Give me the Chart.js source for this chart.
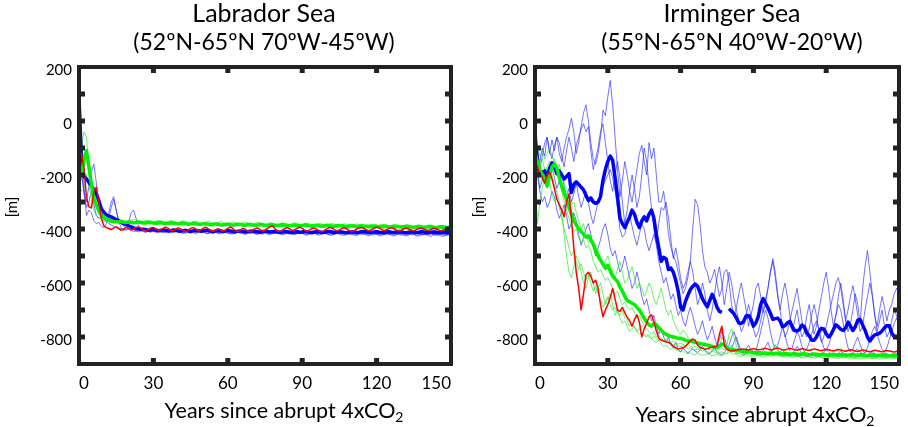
<!DOCTYPE html>
<html>
<head>
<meta charset="utf-8">
<script src="https://cdn.jsdelivr.net/npm/chart.js@4.4.0/dist/chart.umd.min.js"></script>
<style>
body { margin: 0; background: #fff; }
#wrap { position: relative; width: 908px; height: 427px; overflow: hidden; }
canvas { position: absolute; top: 0; }
</style>
</head>
<body>
<div id="wrap">
<canvas id="lab" width="460" height="427" style="left:0px"></canvas>
<canvas id="irm" width="448" height="427" style="left:460px"></canvas>
</div>
<script>
// years since abrupt 4xCO2 (x axis)
const years = [];
for (let i = 0; i <= 150; i++) years.push(i);
const xTickMarks = [30, 60, 90, 120];
const yTickMarks = [100, 0, -100, -200, -300, -400, -500, -600, -700, -800];

// ---- Labrador Sea ----
const labBlueMean = [
90,-150,-205,-215,-228,-240,-255,-270,-295,-325,
-338,-348,-352,-355,-360,-365,-370,-375,-380,-384,
-388,-392,-396,-398,-400,-402,-401,-403,-405,-404,
-402,-404,-406,-405,-403,-405,-407,-406,-404,-405,
-407,-408,-406,-405,-407,-409,-407,-405,-406,-408,
-407,-405,-406,-408,-410,-408,-406,-407,-409,-408,
-406,-407,-409,-410,-408,-407,-409,-411,-410,-408,
-407,-409,-410,-412,-410,-408,-409,-411,-410,-409,
-410,-412,-411,-409,-410,-412,-413,-411,-410,-412,
-411,-409,-410,-412,-413,-411,-410,-411,-413,-412,
-410,-409,-411,-413,-412,-410,-411,-413,-414,-412,
-410,-411,-413,-412,-410,-409,-411,-413,-412,-411,
-410,-412,-414,-413,-411,-410,-412,-413,-411,-410,
-411,-413,-414,-412,-410,-411,-413,-412,-410,-411,
-413,-414,-412,-411,-412,-414,-413,-411,-412,-414,
-413];
const labGreenMean = [
-170,-200,-140,-110,-170,-235,-285,-312,-332,-346,
-355,-362,-366,-370,-372,-373,-374,-372,-375,-376,
-374,-375,-377,-376,-374,-376,-378,-377,-375,-376,
-378,-379,-377,-376,-378,-380,-379,-377,-378,-380,
-381,-379,-378,-380,-382,-381,-379,-380,-382,-383,
-381,-380,-382,-384,-383,-381,-382,-384,-385,-383,
-382,-384,-385,-384,-382,-383,-385,-386,-384,-383,
-385,-386,-385,-383,-384,-386,-387,-385,-384,-386,
-387,-386,-384,-385,-387,-388,-386,-385,-387,-388,
-387,-385,-386,-388,-389,-387,-386,-388,-389,-388,
-386,-387,-389,-390,-388,-387,-388,-390,-391,-389,
-388,-389,-391,-390,-388,-389,-391,-392,-390,-389,
-390,-392,-391,-389,-390,-392,-393,-391,-390,-391,
-393,-392,-390,-391,-393,-394,-392,-391,-392,-394,
-393,-391,-392,-394,-395,-393,-392,-393,-395,-394,
-393];
const labRed = [
-170,-120,-175,-280,-318,-322,-262,-245,-300,-360,
-388,-395,-398,-402,-396,-392,-398,-405,-400,-394,
-398,-404,-400,-395,-392,-398,-404,-408,-402,-396,
-394,-400,-406,-402,-397,-393,-398,-404,-407,-401,
-396,-400,-406,-410,-404,-398,-395,-400,-407,-403,
-398,-393,-399,-405,-409,-404,-399,-402,-408,-404,
-398,-392,-398,-406,-410,-404,-398,-401,-407,-411,
-405,-399,-396,-402,-408,-405,-398,-392,-388,-399,
-407,-410,-404,-398,-395,-400,-406,-403,-397,-393,
-398,-405,-409,-404,-398,-396,-402,-408,-410,-405,
-399,-394,-396,-402,-407,-404,-398,-395,-400,-406,
-410,-406,-400,-396,-394,-398,-404,-407,-402,-397,
-393,-396,-402,-406,-403,-398,-395,-399,-405,-408,
-404,-399,-396,-400,-405,-407,-402,-398,-396,-400,
-404,-406,-401,-397,-399,-404,-407,-403,-399,-402,
-405];
const labBlue1 = [
40,-200,-260,-300,-240,-190,-160,-230,-320,-350,
-330,-350,-340,-300,-280,-330,-370,-380,-390,-385,
-375,-340,-330,-360,-390,-400,-405,-410,-404,-400,
-408,-412,-406,-402,-409,-414,-410,-405,-400,-408,
-413,-410,-404,-407,-412,-415,-409,-404,-408,-413,
-411,-406,-409,-414,-416,-410,-405,-409,-414,-412,
-407,-410,-415,-417,-412,-406,-410,-415,-413,-409,
-412,-416,-418,-413,-408,-411,-416,-414,-410,-413,
-417,-415,-410,-412,-417,-419,-414,-410,-413,-417,
-416,-411,-413,-418,-419,-414,-410,-414,-418,-416,
-412,-414,-419,-420,-415,-411,-414,-419,-417,-413,
-415,-419,-421,-416,-412,-415,-420,-418,-414,-416,
-420,-421,-416,-413,-416,-420,-419,-415,-417,-421,
-422,-417,-414,-417,-421,-420,-416,-418,-422,-421,
-417,-415,-418,-422,-421,-417,-419,-423,-421,-418,
-420];
const labBlue2 = [
-20,-180,-270,-320,-300,-260,-310,-350,-360,-355,
-365,-370,-380,-385,-390,-395,-400,-398,-402,-405,
-400,-396,-402,-408,-410,-405,-400,-404,-410,-412,
-406,-402,-407,-412,-414,-409,-404,-408,-413,-411,
-406,-409,-414,-416,-411,-406,-409,-414,-412,-408,
-410,-415,-417,-412,-407,-410,-415,-413,-409,-412,
-416,-418,-413,-408,-411,-416,-414,-410,-413,-417,
-415,-410,-412,-417,-419,-414,-410,-413,-417,-416,
-411,-413,-418,-419,-414,-410,-414,-418,-416,-412,
-414,-419,-420,-415,-411,-414,-419,-417,-413,-415,
-419,-421,-416,-412,-415,-420,-418,-414,-416,-420,
-421,-416,-413,-416,-420,-419,-415,-417,-421,-422,
-417,-414,-417,-421,-420,-416,-418,-422,-421,-417,
-415,-418,-422,-421,-417,-419,-423,-421,-418,-420,
-422,-418,-416,-419,-423,-422,-418,-420,-424,-421,
-419];
const labBlue3 = [
120,-60,-240,-350,-330,-340,-370,-380,-375,-390,
-395,-380,-360,-320,-290,-330,-372,-395,-405,-400,
-398,-404,-410,-406,-400,-404,-410,-413,-407,-402,
-405,-411,-414,-409,-404,-407,-412,-415,-410,-405,
-408,-413,-416,-411,-406,-410,-414,-417,-412,-407,
-409,-414,-418,-413,-408,-411,-416,-418,-413,-409,
-412,-417,-419,-414,-409,-412,-417,-420,-415,-410,
-413,-418,-420,-415,-411,-414,-419,-421,-416,-412,
-414,-419,-422,-417,-412,-415,-420,-422,-417,-413,
-416,-421,-423,-418,-413,-416,-421,-423,-418,-414,
-417,-422,-424,-419,-414,-417,-422,-424,-419,-415,
-418,-423,-424,-419,-415,-418,-423,-425,-420,-416,
-419,-424,-425,-420,-416,-419,-424,-426,-421,-417,
-420,-424,-426,-421,-417,-420,-425,-426,-421,-418,
-421,-425,-427,-422,-418,-421,-426,-427,-422,-419,
-424];
const labGreen1 = [
-150,-100,-40,-60,-180,-260,-300,-320,-340,-355,
-362,-368,-370,-366,-368,-372,-370,-366,-369,-373,
-371,-367,-364,-368,-372,-374,-370,-366,-369,-373,
-375,-371,-367,-370,-374,-376,-372,-368,-371,-375,
-377,-373,-369,-372,-376,-378,-374,-370,-373,-377,
-379,-375,-371,-374,-378,-380,-376,-372,-375,-379,
-380,-376,-373,-376,-380,-381,-377,-374,-377,-381,
-382,-378,-375,-378,-382,-383,-379,-376,-379,-383,
-384,-380,-376,-379,-383,-385,-381,-377,-380,-384,
-385,-381,-378,-381,-385,-386,-382,-379,-382,-386,
-387,-383,-379,-382,-386,-388,-384,-380,-383,-387,
-388,-384,-381,-384,-388,-389,-385,-382,-385,-389,
-390,-386,-382,-385,-389,-391,-387,-383,-386,-390,
-391,-387,-384,-387,-391,-392,-388,-385,-388,-392,
-393,-389,-385,-388,-392,-394,-390,-386,-389,-393,
-394];
const labGreen2 = [
-200,-220,-170,-120,-150,-220,-270,-320,-345,-360,
-368,-374,-378,-375,-371,-374,-378,-381,-377,-373,
-376,-380,-382,-378,-374,-377,-381,-383,-379,-375,
-378,-382,-384,-380,-376,-379,-383,-385,-381,-377,
-380,-384,-386,-382,-378,-381,-385,-387,-383,-379,
-382,-386,-388,-384,-380,-383,-387,-389,-385,-381,
-384,-388,-390,-386,-382,-385,-389,-391,-387,-383,
-386,-390,-391,-387,-383,-386,-390,-392,-388,-384,
-387,-391,-392,-388,-384,-387,-391,-393,-389,-385,
-388,-392,-393,-389,-385,-388,-392,-394,-390,-386,
-389,-393,-394,-390,-386,-389,-393,-395,-391,-387,
-390,-394,-395,-391,-387,-390,-394,-396,-392,-388,
-391,-395,-396,-392,-388,-391,-395,-397,-393,-389,
-392,-396,-397,-393,-389,-392,-396,-398,-394,-390,
-393,-397,-398,-394,-390,-393,-397,-399,-395,-391,
-394];
const labGreen3 = [
-230,-260,-250,-200,-240,-290,-330,-350,-360,-366,
-370,-368,-372,-376,-379,-375,-371,-374,-378,-380,
-376,-372,-375,-379,-381,-377,-373,-376,-380,-382,
-378,-374,-377,-381,-383,-379,-375,-378,-382,-384,
-380,-376,-379,-383,-385,-381,-377,-380,-384,-386,
-382,-378,-381,-385,-387,-383,-379,-382,-386,-388,
-384,-380,-383,-387,-389,-385,-381,-384,-388,-390,
-386,-382,-385,-389,-391,-387,-383,-386,-390,-392,
-388,-384,-387,-391,-393,-389,-385,-388,-392,-394,
-390,-386,-389,-393,-395,-391,-387,-390,-394,-396,
-392,-388,-391,-395,-397,-393,-389,-392,-396,-398,
-394,-390,-393,-397,-399,-395,-391,-394,-398,-400,
-396,-392,-395,-399,-401,-397,-393,-396,-400,-402,
-398,-394,-397,-401,-403,-399,-395,-398,-402,-404,
-400,-396,-399,-403,-405,-401,-397,-400,-404,-406,
-402];

// ---- Irminger Sea ----
const irmBlueMean = [
-60,-150,-200,-190,-185,-205,-175,-155,-170,-195,
-185,-200,-215,-205,-195,-265,-235,-225,-235,-245,
-255,-275,-295,-285,-300,-305,-300,-280,-220,-180,
-150,-130,-145,-210,-280,-360,-380,-395,-375,-355,
-330,-345,-375,-395,-370,-355,-370,-345,-330,-360,
-420,-470,-520,-505,-510,-550,-545,-560,-590,-630,
-690,-700,-668,-645,-625,-612,-604,-612,-635,-658,
-675,-688,-665,-642,-662,-690,-705,-709,null,null,
-695,-705,-714,-730,-748,-750,-742,-722,-720,-735,
-760,-748,-725,-680,-658,-675,-693,-712,-735,-732,
-730,-740,-762,-758,-748,-742,-762,-776,-778,-772,
-756,-762,-785,-795,-812,-812,-800,-780,-768,-770,
-788,-800,-790,-772,-755,-762,-772,-776,-766,-745,
-760,-776,-762,-738,-735,-755,-775,-800,-815,-802,
-792,-790,-786,-778,-766,-758,-758,-785,-798,-802,
-800];
const irmGreenMean = [
-120,-150,-180,-200,-215,-240,-200,-170,-160,-175,
-210,-240,-265,-290,-320,-345,-370,-385,-400,-410,
-420,-430,-425,-440,-455,-480,-500,-515,-530,-545,
-535,-555,-575,-585,-595,-615,-630,-650,-665,-670,
-675,-680,-690,-700,-715,-730,-745,-755,-760,-750,
-755,-765,-775,-785,-790,-795,-798,-800,-802,-805,
-805,-808,-812,-815,-815,-818,-820,-822,-825,-826,
-828,-830,-832,-835,-838,-838,-832,-826,-830,-840,
-845,-846,-848,-850,-850,-852,-853,-854,-855,-856,
-857,-858,-857,-859,-860,-859,-861,-860,-862,-861,
-860,-862,-863,-861,-862,-864,-863,-862,-864,-865,
-863,-862,-864,-866,-865,-863,-864,-866,-865,-864,
-866,-867,-865,-864,-866,-867,-866,-865,-867,-868,
-866,-865,-867,-868,-866,-865,-867,-869,-868,-866,
-867,-869,-868,-866,-867,-869,-870,-868,-867,-869,
-868];
const irmRed = [
-150,-170,-195,-210,-230,-200,-190,-215,-250,-290,
-310,-330,-355,-300,-270,-360,-470,-560,-620,-700,
-640,-570,-560,-575,-600,-590,-620,-680,-725,-700,
-680,-655,-620,-660,-700,-705,-690,-710,-728,-740,
-760,-735,-718,-745,-800,-770,-750,-725,-718,-745,
-778,-805,-812,-815,-818,-820,-825,-835,-840,-845,
-842,-840,-835,-825,-815,-808,-812,-830,-838,-842,
-845,-843,-840,-838,-836,-834,-790,-760,-830,-845,
-850,-852,-850,-848,-846,-845,-844,-846,-848,-845,
-843,-845,-847,-846,-844,-842,-845,-848,-846,-843,
-841,-844,-847,-848,-845,-842,-844,-847,-849,-846,
-843,-845,-848,-850,-847,-844,-846,-849,-851,-848,
-845,-847,-850,-852,-849,-846,-848,-851,-853,-850,
-847,-849,-852,-854,-851,-848,-850,-853,-855,-852,
-849,-851,-853,-855,-852,-850,-852,-854,-856,-853,
-852];
const irmBlue1 = [
-20,-120,-150,-100,-130,-60,-110,-140,-90,-60,
-120,-150,-100,-60,-30,10,-40,-120,-80,-20,
30,60,0,-80,-140,-160,-120,-60,40,20,
90,150,60,-60,-180,-280,-220,-150,-200,-260,
-300,-240,-180,-120,-90,-150,-200,-80,-140,-100,
-200,-300,-300,-260,-330,-420,-470,-500,-520,-560,
-600,-640,-620,-580,-520,-400,-290,-310,-380,-480,
-540,-560,-600,-580,-550,-600,-650,-620,-560,-550,
-600,-680,-720,-690,-640,-600,-650,-700,-760,-720,
-680,-620,-600,-650,-710,-680,-620,-560,-520,-580,
-650,-700,-640,-600,-650,-720,-780,-740,-700,-760,
-800,-780,-720,-680,-740,-790,-760,-700,-650,-600,
-560,-620,-700,-760,-720,-650,-600,-660,-740,-780,
-750,-700,-640,-680,-750,-620,-540,-480,-560,-640,
-720,-760,-700,-650,-690,-740,-700,-680,-640,-620,
-640];
const irmBlue2 = [
30,-100,-180,-130,-80,-60,-120,-70,-110,-60,
-80,-130,-170,-110,-60,-100,-150,-90,-60,-30,
-10,-40,-20,-110,-180,-140,-100,-40,-10,-80,
-150,-220,-260,-200,-150,-210,-300,-380,-330,-260,
-200,-250,-320,-280,-200,-100,-150,-240,-320,-400,
-450,-380,-320,-330,-300,-360,-440,-510,-470,-520,
-580,-620,-600,-560,-520,-560,-620,-680,-650,-600,
-640,-700,-740,-700,-640,-580,-540,-600,-680,-620,
-560,-600,-660,-700,-740,-780,-760,-720,-680,-720,
-770,-800,-780,-740,-700,-660,-620,-560,-510,-560,
-640,-700,-760,-800,-780,-740,-700,-660,-620,-680,
-740,-780,-800,-770,-720,-680,-720,-780,-820,-800,
-760,-720,-680,-640,-600,-580,-620,-680,-740,-700,
-650,-610,-660,-720,-780,-760,-700,-650,-600,-650,
-720,-780,-740,-700,-760,-800,-780,-740,-700,-720,
-760];
const irmBlue3 = [
-60,-180,-250,-220,-180,-230,-200,-170,-210,-250,
-220,-190,-240,-280,-250,-300,-270,-230,-280,-320,
-290,-260,-300,-350,-380,-340,-300,-270,-240,-220,
-200,-180,-210,-260,-320,-400,-430,-420,-380,-350,
-390,-430,-460,-420,-380,-400,-450,-480,-450,-420,
-460,-520,-560,-600,-580,-620,-660,-640,-680,-720,
-700,-740,-760,-720,-690,-720,-760,-790,-770,-740,
-780,-810,-790,-760,-800,-830,-810,-780,-800,-830,
-850,-840,-820,-800,-830,-850,-860,-845,-830,-850,
-862,-850,-820,-780,-740,-700,-730,-780,-820,-845,
-830,-800,-760,-790,-830,-850,-840,-810,-780,-800,
-835,-855,-845,-820,-790,-760,-740,-770,-810,-840,
-850,-830,-800,-760,-720,-680,-700,-750,-800,-840,
-855,-845,-820,-800,-830,-850,-860,-840,-810,-780,
-760,-790,-820,-845,-855,-840,-810,-780,-750,-730,
-760];
const irmBlue4 = [
-100,-200,-260,-300,-280,-320,-300,-260,-280,-330,
-360,-340,-310,-350,-400,-380,-340,-370,-420,-460,
-430,-400,-380,-420,-460,-500,-470,-440,-400,-380,
-420,-470,-500,-480,-520,-560,-540,-500,-540,-580,
-620,-600,-560,-600,-650,-680,-660,-700,-740,-720,
-760,-790,-770,-800,-820,-800,-830,-840,-820,-845,
-855,-840,-850,-860,-850,-845,-852,-858,-848,-835,
-850,-860,-862,-850,-842,-855,-862,-865,-858,-845,
-830,-800,-780,-810,-840,-858,-865,-860,-852,-845,
-855,-862,-866,-860,-850,-835,-820,-845,-860,-866,
-862,-855,-848,-860,-866,-868,-862,-850,-835,-848,
-860,-866,-868,-864,-858,-862,-866,-868,-864,-855,
-848,-856,-864,-868,-866,-860,-852,-860,-866,-868,
-865,-858,-850,-845,-856,-864,-868,-866,-860,-854,
-862,-867,-868,-864,-858,-862,-866,-868,-864,-860,
-862];
const irmGreen1 = [
-90,-100,-130,-110,-140,-120,-100,-130,-150,-180,
-160,-200,-230,-250,-280,-310,-300,-340,-370,-400,
-380,-420,-450,-440,-470,-500,-480,-510,-540,-520,
-500,-530,-560,-580,-550,-520,-560,-600,-590,-560,
-540,-580,-620,-600,-620,-650,-630,-600,-620,-660,
-680,-650,-620,-660,-700,-720,-700,-740,-760,-780,
-790,-775,-785,-800,-810,-805,-815,-825,-820,-830,
-835,-828,-832,-840,-845,-838,-830,-842,-848,-835,
-790,-770,-800,-835,-850,-855,-852,-858,-860,-856,
-862,-866,-860,-858,-864,-868,-865,-860,-850,-830,
-845,-860,-866,-870,-868,-864,-868,-870,-866,-862,
-866,-870,-872,-868,-864,-868,-872,-870,-866,-868,
-872,-874,-870,-866,-870,-874,-872,-868,-870,-874,
-872,-868,-866,-870,-874,-872,-870,-868,-872,-875,
-872,-868,-870,-874,-872,-868,-866,-870,-874,-872,
-870];
const irmGreen2 = [
-150,-200,-170,-220,-190,-250,-230,-270,-300,-280,
-320,-360,-400,-430,-470,-500,-480,-520,-550,-530,
-560,-590,-570,-600,-630,-610,-640,-660,-690,-670,
-650,-680,-700,-690,-710,-720,-700,-730,-740,-760,
-750,-765,-780,-770,-785,-795,-790,-800,-805,-798,
-805,-812,-808,-815,-820,-818,-825,-830,-826,-832,
-836,-832,-838,-842,-840,-845,-848,-844,-850,-852,
-850,-855,-858,-854,-856,-860,-858,-855,-860,-862,
-858,-860,-864,-862,-860,-865,-866,-862,-864,-868,
-866,-864,-868,-870,-866,-864,-868,-872,-870,-866,
-868,-872,-874,-870,-868,-872,-875,-872,-870,-874,
-876,-872,-870,-874,-876,-874,-870,-872,-876,-878,
-874,-872,-876,-878,-875,-872,-874,-878,-876,-872,
-874,-878,-880,-876,-872,-875,-878,-876,-874,-878,
-880,-876,-874,-877,-880,-878,-874,-876,-879,-876,
-874];
const irmGreen3 = [
-200,-380,-300,-250,-200,-170,-150,-200,-240,-260,
-300,-340,-420,-500,-560,-580,-540,-500,-520,-560,
-600,-620,-580,-560,-600,-640,-620,-600,-640,-680,
-660,-640,-680,-720,-700,-730,-750,-740,-760,-780,
-770,-760,-780,-790,-785,-795,-800,-790,-805,-815,
-820,-812,-825,-835,-830,-840,-845,-838,-848,-852,
-855,-850,-858,-862,-858,-864,-866,-860,-864,-868,
-866,-862,-866,-870,-868,-864,-868,-870,-866,-860,
-848,-830,-850,-866,-870,-872,-868,-866,-870,-872,
-874,-870,-868,-872,-875,-872,-868,-860,-845,-828,
-850,-866,-872,-874,-870,-872,-876,-874,-870,-872,
-875,-878,-874,-872,-876,-878,-875,-872,-874,-878,
-880,-876,-872,-875,-878,-880,-877,-874,-876,-879,
-878,-874,-876,-880,-882,-878,-875,-878,-881,-879,
-876,-878,-882,-880,-876,-878,-881,-880,-877,-879,
-880];
const irmGreen4 = [
-100,-130,-160,-140,-180,-210,-190,-160,-140,-170,
-220,-260,-300,-330,-360,-390,-410,-400,-430,-450,
-440,-470,-460,-480,-520,-540,-560,-550,-570,-590,
-580,-600,-620,-640,-630,-660,-680,-670,-690,-700,
-690,-710,-730,-720,-740,-760,-770,-780,-790,-780,
-800,-795,-805,-812,-808,-815,-820,-816,-822,-826,
-824,-828,-832,-828,-834,-838,-835,-840,-844,-840,
-845,-848,-844,-850,-852,-848,-835,-800,-810,-840,
-852,-856,-852,-858,-860,-856,-860,-862,-858,-862,
-864,-860,-862,-866,-864,-860,-864,-866,-862,-864,
-866,-868,-864,-866,-870,-868,-864,-866,-870,-868,
-866,-868,-872,-870,-866,-868,-872,-870,-868,-872,
-874,-870,-868,-872,-874,-870,-868,-872,-875,-872,
-870,-874,-876,-872,-870,-874,-876,-873,-870,-874,
-876,-873,-870,-874,-877,-875,-872,-874,-877,-875,
-872];

const BLUE = '#0000ff', GREEN = '#00f000', RED = '#ff0000';
const THIN_BLUE = 'rgba(40,40,255,0.65)', THIN_GREEN = 'rgba(30,230,30,0.65)';

function line(data, color, width) {
  return { data: data, borderColor: color, borderWidth: width, pointRadius: 0,
           fill: false, tension: 0, borderJoinStyle: 'round', spanGaps: false };
}

// frame with inward ticks, plus the titles
const frameAndText = {
  id: 'frameAndText',
  afterDraw(chart, args, o) {
    const ctx = chart.ctx, a = chart.chartArea;
    const x = chart.scales.x, y = chart.scales.y;
    ctx.save();
    ctx.strokeStyle = '#222';
    ctx.fillStyle = '#222';
    ctx.lineWidth = 4;
    ctx.strokeRect(a.left, a.top, a.right - a.left, a.bottom - a.top);
    xTickMarks.forEach(v => {
      const px = x.getPixelForValue(v);
      ctx.fillRect(px - 2.5, a.top, 5, 6);
      ctx.fillRect(px - 2.5, a.bottom - 6, 5, 6);
    });
    yTickMarks.forEach(v => {
      const py = y.getPixelForValue(v);
      ctx.fillRect(a.left, py - 2.5, 6, 5);
      ctx.fillRect(a.right - 6, py - 2.5, 6, 5);
    });

    ctx.fillStyle = '#000';
    ctx.textAlign = 'center';
    ctx.textBaseline = 'alphabetic';
    ctx.font = '25px Lato';
    ctx.fillText(o.title[0], o.titleX, 22);
    ctx.font = '23px Lato';
    ctx.fillText(o.title[1], o.titleX, 50);

    // x title with subscript 2
    const main = 'Years since abrupt 4xCO';
    ctx.font = '21.5px Lato';
    const w1 = ctx.measureText(main).width;
    ctx.font = '14px Lato';
    const w2 = ctx.measureText('2').width;
    const sx = o.xTitleX - (w1 + w2) / 2;
    ctx.textAlign = 'left';
    ctx.font = '21.5px Lato';
    ctx.fillText(main, sx, o.xTitleY);
    ctx.font = '14px Lato';
    ctx.fillText('2', sx + w1, o.xTitleY + 4);

    // y title
    ctx.translate(o.yTitleX, 207);
    ctx.rotate(-Math.PI / 2);
    ctx.textAlign = 'center';
    ctx.textBaseline = 'middle';
    ctx.font = '15px Lato';
    ctx.fillText('[m]', 0, 0);
    ctx.restore();
  }
};

Chart.defaults.font.family = 'Lato, sans-serif';
Chart.defaults.color = '#000';

function makeChart(id, sets, yWidth, padRight, text) {
  return new Chart(document.getElementById(id), {
    type: 'line',
    data: { labels: years, datasets: sets },
    options: {
      responsive: false,
      animation: false,
      layout: { padding: { top: 67, right: padRight, bottom: 0, left: 0 } },
      plugins: { legend: { display: false }, tooltip: { enabled: false }, frameAndText: text },
      scales: {
        x: {
          type: 'linear', min: 0, max: 150,
          grid: { display: false, drawTicks: false }, border: { display: false },
          ticks: { stepSize: 30, padding: 9, align: 'inner', maxRotation: 0, font: { size: 17 } },
          afterFit: s => { s.height = 427 - 364; }
        },
        y: {
          min: -900, max: 200,
          grid: { display: false, drawTicks: false }, border: { display: false },
          ticks: { stepSize: 100, padding: 7, labelOffset: 3, font: { size: 15 },
                   callback: v => (v % 200 === 0 ? v : null) },
          afterFit: s => { s.width = yWidth; }
        }
      }
    },
    plugins: [frameAndText]
  });
}

makeChart('lab', [
  line(labRed, RED, 1.5),
  line(labGreenMean, GREEN, 3.5),
  line(labBlueMean, BLUE, 3.5),
  line(labGreen1, THIN_GREEN, 1),
  line(labGreen2, THIN_GREEN, 1),
  line(labGreen3, THIN_GREEN, 1),
  line(labBlue1, THIN_BLUE, 1),
  line(labBlue2, THIN_BLUE, 1),
  line(labBlue3, THIN_BLUE, 1)
], 79, 7, {
  title: ['Labrador Sea', '(52ºN-65ºN 70ºW-45ºW)'], titleX: 264,
  xTitleX: 284, xTitleY: 418, yTitleX: 12
});

makeChart('irm', [
  line(irmRed, RED, 1.5),
  line(irmGreenMean, GREEN, 3.5),
  line(irmBlueMean, BLUE, 3.5),
  line(irmGreen1, THIN_GREEN, 1),
  line(irmGreen2, THIN_GREEN, 1),
  line(irmGreen3, THIN_GREEN, 1),
  line(irmGreen4, THIN_GREEN, 1),
  line(irmBlue1, THIN_BLUE, 1),
  line(irmBlue2, THIN_BLUE, 1),
  line(irmBlue3, THIN_BLUE, 1),
  line(irmBlue4, THIN_BLUE, 1)
], 75, 6, {
  title: ['Irminger Sea', '(55ºN-65ºN 40ºW-20ºW)'], titleX: 272,
  xTitleX: 295, xTitleY: 422, yTitleX: 19
});
</script>
</body>
</html>
